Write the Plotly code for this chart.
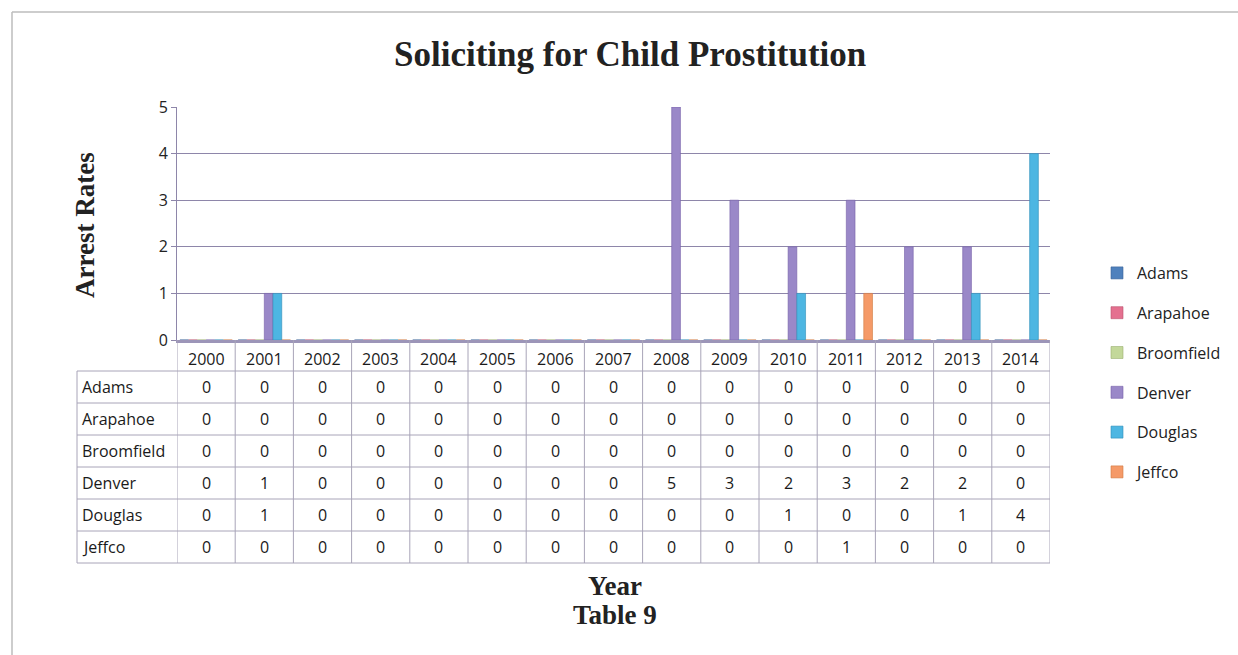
import plotly.graph_objects as go

# Arrests by county and year
years = [2000, 2001, 2002, 2003, 2004, 2005, 2006, 2007, 2008, 2009, 2010, 2011, 2012, 2013, 2014]
year_labels = ["2000", "2001", "2002", "2003", "2004", "2005", "2006", "2007",
               "2008", "2009", "2010", "2011", "2012", "2013", "2014"]
adams = [0, 0, 0, 0, 0, 0, 0, 0, 0, 0, 0, 0, 0, 0, 0]
arapahoe = [0, 0, 0, 0, 0, 0, 0, 0, 0, 0, 0, 0, 0, 0, 0]
broomfield = [0, 0, 0, 0, 0, 0, 0, 0, 0, 0, 0, 0, 0, 0, 0]
denver = [0, 1, 0, 0, 0, 0, 0, 0, 5, 3, 2, 3, 2, 2, 0]
douglas = [0, 1, 0, 0, 0, 0, 0, 0, 0, 0, 1, 0, 0, 1, 4]
jeffco = [0, 0, 0, 0, 0, 0, 0, 0, 0, 0, 0, 1, 0, 0, 0]

counties = ["Adams", "Arapahoe", "Broomfield", "Denver", "Douglas", "Jeffco"]
series = [adams, arapahoe, broomfield, denver, douglas, jeffco]
colors = ["#4F81BD", "#E4708F", "#C3D89A", "#9A88C8", "#4DB6E2", "#F59A68"]
edge_colors = ["#3A6399", "#B8506C", "#9AB070", "#7560A8", "#2F8FB8", "#D07840"]

W, H = 1238, 655
L, R, T, B = 177, 188, 107, 315
PW = W - L - R
PH = H - T - B


def px_x(p):
    return (p - L) / PW


def px_y(p):
    return (H - B - p) / PH


TABLE_FONT = "Open Sans, Lato, sans-serif"
SERIF = "Liberation Serif, Times New Roman, serif"
LINE_C = "#A8A4B8"
GRID_C = "#8E86AA"
TXT = "#1a1a1a"

fig = go.Figure()
for name, vals, c, ec in zip(counties, series, colors, edge_colors):
    fig.add_trace(go.Bar(
        x=years, y=vals, name=name, legendgroup=name,
        marker=dict(color=c, line=dict(color=ec, width=0.6)),
    ))

# data table beneath the plot: rows per county, columns aligned to year categories
row_h = 32
header_bottom = 371
shapes = []
annotations = []


def cell(x, xref, y, text, xanchor="center"):
    return dict(x=x, xref=xref, y=y, yref="paper", text=text, showarrow=False,
                xanchor=xanchor, yanchor="middle",
                font=dict(family=TABLE_FONT, size=16, color=TXT))


# header years
for yr, lab in zip(years, year_labels):
    annotations.append(cell(yr, "x", px_y(359), lab))

for i, (name, vals) in enumerate(zip(counties, series)):
    yc = px_y(header_bottom + row_h * i + row_h / 2)
    annotations.append(cell(px_x(80), "paper", yc, name, xanchor="left"))
    for yr, v in zip(years, vals):
        annotations.append(cell(yr, "x", yc, str(v)))

table_bottom = header_bottom + row_h * len(counties)
# horizontal table rules
for i in range(len(counties) + 1):
    yy = px_y(header_bottom + row_h * i)
    shapes.append(dict(type="line", xref="paper", yref="paper", x0=px_x(77), x1=1.0,
                       y0=yy, y1=yy, line=dict(color=LINE_C, width=1)))
# vertical table rules at category boundaries
for k in range(len(years) + 1):
    xx = years[0] - 0.5 + k
    shapes.append(dict(type="line", xref="x", yref="paper", x0=xx, x1=xx,
                       y0=0, y1=px_y(table_bottom), line=dict(color=LINE_C, width=1)))
shapes.append(dict(type="line", xref="paper", yref="paper", x0=px_x(77), x1=px_x(77),
                   y0=px_y(header_bottom), y1=px_y(table_bottom), line=dict(color=LINE_C, width=1)))

# frame along the top and left edges
shapes.append(dict(type="line", xref="paper", yref="paper", x0=px_x(12), x1=px_x(W),
                   y0=px_y(12), y1=px_y(12), line=dict(color="#BDBDBD", width=1.5)))
shapes.append(dict(type="line", xref="paper", yref="paper", x0=px_x(12), x1=px_x(12),
                   y0=px_y(12), y1=px_y(H), line=dict(color="#BDBDBD", width=1.5)))


def label(x, y, text, size, angle=0):
    return dict(x=px_x(x), y=px_y(y), xref="paper", yref="paper", text=text,
                textangle=angle, showarrow=False, xanchor="center", yanchor="middle",
                font=dict(family=SERIF, size=size, color="#222"))


annotations += [
    label(630, 55, "<b>Soliciting for Child Prostitution</b>", 35),
    label(85, 225, "<b>Arrest Rates</b>", 27, angle=-90),
    label(615, 586, "<b>Year</b>", 27),
    label(615, 615, "<b>Table 9</b>", 27),
]

fig.update_layout(
    width=W, height=H, autosize=False,
    margin=dict(l=L, r=R, t=T, b=B),
    paper_bgcolor="white", plot_bgcolor="white",
    barmode="group", bargap=0.1, bargroupgap=0,
    showlegend=True,
    legend=dict(x=px_x(1097), y=px_y(256), xanchor="left", yanchor="top",
                font=dict(family=TABLE_FONT, size=16, color="#222"),
                tracegroupgap=16, maxheight=400, bgcolor="rgba(0,0,0,0)"),
    xaxis=dict(range=[years[0] - 0.5, years[-1] + 0.5], showticklabels=False, showgrid=False,
               zeroline=False, showline=True, linecolor="#9C95B8", linewidth=3, ticks=""),
    yaxis=dict(range=[0, 5], dtick=1, showgrid=True, gridcolor=GRID_C, gridwidth=1,
               zeroline=False, showline=True, linecolor=GRID_C, linewidth=1,
               ticks="outside", ticklen=5, tickcolor=GRID_C,
               tickfont=dict(family=TABLE_FONT, size=16, color="#222")),
    shapes=shapes, annotations=annotations,
)

fig.write_html("out.html")
